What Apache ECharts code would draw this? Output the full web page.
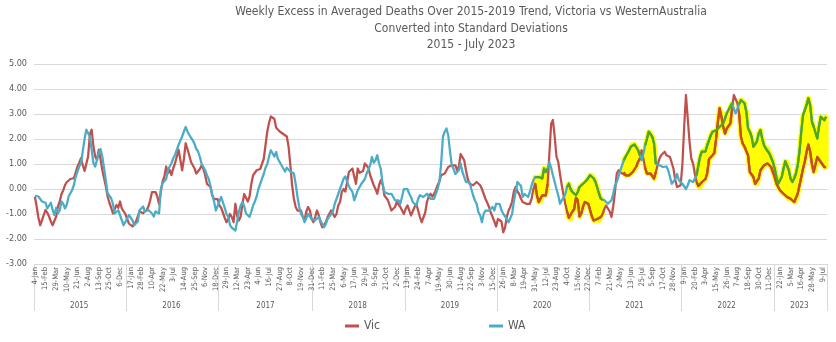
<!DOCTYPE html>
<html>
<head>
<meta charset="utf-8">
<title>Weekly Excess Deaths – Victoria vs Western Australia</title>
<script src="https://cdn.jsdelivr.net/npm/echarts/dist/echarts.min.js"></script>
<style>
  html, body { margin: 0; padding: 0; background: #ffffff; }
  #chart { width: 836px; height: 342px; }
</style>
</head>
<body>
<div id="chart"></div>
<script>
// Weekly series, one value per week starting Sunday 4 January 2015
const FIRST_WEEK = '2015-01-04';
const WEEK_COUNT = 447;
const MONTH_NAMES = ['Jan','Feb','Mar','Apr','May','Jun','Jul','Aug','Sep','Oct','Nov','Dec'];

// Excess deaths expressed in standard deviations, Victoria
const vic = [
  -0.31,-0.7,-1.15,-1.45,-1.25,-1.04,-0.84,-0.95,-1.1,-1.3,
  -1.45,-1.42,-1.1,-0.7,-0.5,-0.2,-0.05,0.16,0.28,0.36,
  0.4,0.43,0.43,0.5,0.9,1.05,1.23,0.95,0.72,0.7,
  1.3,2.2,2.37,1.7,1.3,1.16,1.57,1.2,0.76,0.43,
  0.1,-0.3,-0.55,-0.75,-0.98,-0.95,-0.64,-0.75,-0.5,-0.78,
  -0.82,-1.0,-1.2,-1.38,-1.45,-1.5,-1.48,-1.3,-1.1,-0.9,
  -0.95,-0.97,-0.9,-0.84,-0.7,-0.45,-0.12,-0.1,-0.12,-0.3,
  -0.6,-0.1,0.3,0.5,0.9,0.63,0.76,0.56,0.83,1.03,
  1.3,1.57,1.16,0.75,1.2,1.83,1.6,1.35,1.08,0.95,
  0.82,0.62,0.62,0.8,0.95,0.8,0.55,0.2,0.18,0.08,
  -0.25,-0.4,-0.45,-0.4,-0.66,-0.75,-0.95,-1.15,-1.33,-1.2,
  -1.0,-1.12,-1.33,-0.59,-1.06,-1.26,-1.1,-0.6,-0.2,-0.25,
  -0.5,-0.3,0.2,0.55,0.55,0.75,0.68,0.8,0.78,1.2,
  1.75,2.3,2.65,2.9,2.95,2.8,2.45,2.4,2.3,2.25,
  2.2,2.15,2.1,1.7,0.95,0.15,-0.39,-0.72,-0.86,-0.86,
  -0.86,-1.12,-1.26,-0.9,-0.72,-0.85,-1.2,-1.33,-1.12,-0.86,
  -1.05,-1.33,-1.53,-1.6,-1.33,-1.12,-1.12,-0.86,-0.92,-1.12,
  -1.0,-0.66,-0.52,-0.12,0.0,-0.1,0.28,0.68,0.7,0.82,
  0.5,0.21,0.82,0.65,0.7,0.72,1.02,1.0,0.85,0.55,
  0.35,0.15,0.0,-0.19,0.15,0.35,0.2,-0.26,-0.3,-0.45,
  -0.66,-0.86,-0.86,-0.72,-0.52,-0.55,-0.72,-0.86,-1.0,-0.79,
  -0.66,-0.85,-1.06,-1.0,-0.72,-0.6,-0.85,-1.12,-1.33,-1.33,
  -0.95,-0.52,-0.3,-0.19,-0.3,-0.2,-0.05,0.15,0.3,0.55,
  0.55,0.62,0.75,0.88,0.8,0.95,1.02,0.95,0.75,0.9,
  1.4,1.4,1.15,0.75,0.4,0.21,0.21,0.15,0.15,0.28,
  0.35,0.15,0.0,-0.2,-0.4,-0.55,-0.72,-0.95,-1.12,-1.3,
  -1.5,-1.2,-1.15,-1.3,-1.73,-1.55,-1.12,-0.86,-0.72,-0.5,
  -0.1,0.08,-0.1,-0.2,-0.39,-0.52,-0.59,-0.59,-0.52,-0.59,
  -0.39,0.0,0.21,-0.25,-0.52,-0.5,-0.25,-0.25,-0.25,0.2,
  1.4,2.6,2.76,2.1,1.3,1.08,0.6,0.15,-0.25,-0.6,
  -0.9,-1.15,-1.2,-0.9,-0.8,-0.35,-0.45,-1.1,-0.98,-0.7,
  -0.52,-0.52,-0.6,-0.85,-1.1,-1.26,-1.26,-1.2,-1.26,-1.12,
  -1.0,-0.8,-0.66,-0.7,-0.9,-1.12,-0.7,-0.1,0.62,0.75,
  0.75,0.62,0.68,0.55,0.55,0.55,0.62,0.68,0.75,0.9,
  1.08,1.22,1.55,1.6,0.85,0.62,0.62,0.62,0.55,0.42,
  0.68,0.95,1.2,1.35,1.35,1.49,1.35,1.28,1.28,1.2,
  0.8,0.35,0.08,0.08,0.15,1.0,2.5,3.76,2.82,1.9,
  1.22,1.02,0.6,0.28,0.12,0.08,0.28,0.3,0.4,0.65,
  1.2,1.28,1.35,1.45,2.02,2.69,3.23,2.89,2.49,2.22,
  2.42,2.5,2.62,3.2,3.76,3.76,3.43,3.0,2.09,1.82,
  1.69,1.62,1.35,0.68,0.62,0.48,0.21,0.21,0.42,0.75,
  0.82,0.95,0.98,1.02,0.95,0.88,0.68,0.48,0.21,0.08,
  -0.05,-0.12,-0.19,-0.25,-0.32,-0.39,-0.39,-0.45,-0.52,-0.45,
  -0.19,0.15,0.48,0.82,1.1,1.49,1.78,1.5,1.0,0.68,
  0.75,1.28,1.22,1.08,1.02,0.88,0.88
];

// Excess deaths expressed in standard deviations, Western Australia
const wa = [
  -0.27,-0.27,-0.3,-0.37,-0.5,-0.58,-0.55,-0.78,-0.72,-0.55,
  -0.84,-1.04,-0.75,-0.98,-0.85,-0.5,-0.6,-0.78,-0.62,-0.3,
  -0.17,-0.04,0.16,0.5,0.55,0.9,1.03,0.97,2.0,2.37,
  2.3,2.1,1.57,1.03,0.9,0.97,1.43,1.6,1.3,0.83,
  0.8,-0.17,-0.25,-0.37,-0.6,-0.98,-0.98,-0.85,-1.05,-1.25,
  -1.45,-1.4,-1.18,-1.04,-1.1,-1.25,-1.45,-1.51,-1.3,-0.85,
  -0.8,-0.7,-0.9,-0.84,-0.84,-0.9,-0.98,-1.1,-0.9,-0.84,
  -0.98,0.0,0.23,0.28,0.4,0.76,0.9,1.03,1.23,1.37,
  1.57,1.77,1.83,2.1,2.3,2.48,2.3,2.17,2.05,1.95,
  1.8,1.6,1.5,1.28,1.0,0.95,0.75,0.55,0.4,0.1,
  -0.25,-0.5,-0.86,-0.9,-0.5,-0.32,-0.4,-0.75,-1.0,-1.1,
  -1.45,-1.55,-1.6,-1.66,-1.3,-0.9,-0.66,-0.52,-0.7,-0.98,
  -1.0,-1.12,-0.9,-0.66,-0.5,-0.3,0.0,0.2,0.41,0.6,
  0.85,1.0,1.3,1.55,1.58,1.3,1.48,1.2,1.08,0.95,
  0.9,0.7,0.85,0.8,0.7,0.62,0.62,0.2,-0.3,-0.72,
  -1.0,-1.1,-1.33,-1.4,-1.0,-0.95,-1.2,-1.12,-1.25,-1.33,
  -1.12,-1.2,-1.4,-1.53,-1.4,-1.2,-1.12,-1.0,-0.9,-0.6,
  -0.4,-0.2,0.0,0.2,0.41,0.5,0.45,0.1,0.15,-0.12,
  -0.45,-0.25,-0.05,0.0,0.2,0.28,0.4,0.62,0.68,0.95,
  1.28,1.05,1.15,1.35,1.02,0.8,0.2,-0.12,-0.19,-0.19,
  -0.25,-0.19,-0.19,-0.45,-0.52,-0.45,-0.59,-0.3,0.0,0.08,
  0.0,-0.19,-0.32,-0.52,-0.45,-0.66,-0.4,-0.25,-0.19,-0.32,
  -0.25,-0.19,-0.25,-0.39,-0.45,-0.39,-0.19,0.0,0.28,1.02,
  2.09,2.29,2.42,2.15,1.5,0.95,0.8,0.6,0.55,0.75,
  1.02,0.68,0.75,0.28,0.35,0.28,0.0,-0.25,-0.45,-0.59,
  -0.92,-1.06,-1.33,-0.99,-0.86,-0.92,-0.86,-0.79,-0.72,-0.86,
  -0.59,-0.52,-0.6,-0.85,-0.99,-1.06,-1.2,-1.33,-1.33,-1.0,
  -0.5,-0.12,0.28,0.28,0.12,-0.32,-0.2,-0.25,-0.32,-0.12,
  0.15,0.35,0.48,0.42,0.48,0.48,0.42,0.82,0.68,0.82,
  1.08,0.85,0.55,0.28,0.0,-0.25,-0.59,-0.45,-0.35,-0.2,
  0.08,0.21,-0.02,-0.12,-0.19,-0.25,-0.12,0.08,0.15,0.21,
  0.17,0.35,0.42,0.55,0.52,0.42,0.28,0.05,-0.19,-0.39,
  -0.45,-0.45,-0.45,-0.59,-0.66,-0.45,-0.19,0.15,0.28,0.5,
  0.75,0.95,1.15,1.3,1.35,1.55,1.7,1.78,1.78,1.7,
  1.55,1.35,1.15,1.4,1.75,2.0,2.29,2.22,2.09,1.82,
  1.0,0.95,0.95,0.92,0.88,0.88,0.9,0.75,0.48,0.21,
  0.15,0.4,0.6,0.35,0.28,0.21,0.15,0.0,0.15,0.35,
  0.28,0.28,0.35,0.55,0.95,1.3,1.5,1.55,1.5,1.75,
  1.95,2.15,2.29,2.22,2.35,2.42,2.49,2.56,2.62,2.82,
  3.03,2.96,3.3,3.43,3.2,3.03,3.03,3.4,3.56,3.5,
  3.43,3.1,2.42,2.29,2.09,1.69,1.69,1.9,2.22,2.36,
  2.0,1.75,1.62,1.62,1.42,1.35,1.08,0.82,0.48,0.21,
  0.15,0.48,0.82,1.11,1.08,0.75,0.4,0.28,0.42,0.62,
  0.95,1.49,2.29,2.96,3.03,3.36,3.63,3.36,2.69,2.49,
  2.42,2.02,2.5,2.89,2.82,2.75,2.89
];

// Periods highlighted where WA ran above Victoria (first and last week)
const highlightPeriods = [
  ['2020-05-31', '2020-07-19'],
  ['2020-10-04', '2021-02-21'],
  ['2021-05-16', '2021-07-18'],
  ['2021-08-08', '2021-09-19'],
  ['2022-02-27', '2022-07-17'],
  ['2022-08-14', '2023-07-23']
];

const yTicks = { min: -3, max: 5, step: 1 };

const FONT = '"Liberation Sans Narrow", "DejaVu Sans Condensed", "Liberation Sans", sans-serif';
const TEXT_GREY = '#595959';
const GRID_GREY = '#d9d9d9';
const VIC_RED = '#C0504D';
const WA_BLUE = '#4BACC6';

// Week labels ("4-Jan") and the year each week belongs to
const DAY_MS = 86400000;
const startMs = Date.parse(FIRST_WEEK + 'T00:00:00Z');
const weekLabels = [];
const weekYears = [];
for (let i = 0; i < WEEK_COUNT; i++) {
  const d = new Date(startMs + i * 7 * DAY_MS);
  weekLabels.push(d.getUTCDate() + '-' + MONTH_NAMES[d.getUTCMonth()]);
  weekYears.push(d.getUTCFullYear());
}
const weekIndex = iso => Math.round((Date.parse(iso + 'T00:00:00Z') - startMs) / (7 * DAY_MS));

// Year groups for the second level of the category axis
const groupStarts = [];
const groupMids = [];
for (let i = 0; i < WEEK_COUNT; i++) {
  if (i === 0 || weekYears[i] !== weekYears[i - 1]) groupStarts.push(i);
}
groupStarts.forEach((s, k) => {
  const e = k + 1 < groupStarts.length ? groupStarts[k + 1] : WEEK_COUNT;
  groupMids.push(Math.floor((s + e - 1) / 2));
});

const spans = highlightPeriods.map(p => [weekIndex(p[0]), weekIndex(p[1])]);
const inSpan = i => spans.some(s => i >= s[0] && i <= s[1]);
const vicHi = vic.map((v, i) => (inSpan(i) ? v : null));
const waHi = wa.map((v, i) => (inSpan(i) ? v : null));

const chart = echarts.init(document.getElementById('chart'), null, { renderer: 'canvas' });

chart.setOption({
  animation: false,
  backgroundColor: '#ffffff',
  textStyle: { fontFamily: FONT },
  title: {
    text: 'Weekly Excess in Averaged Deaths Over 2015-2019 Trend, Victoria vs WesternAustralia\nConverted into Standard Deviations\n2015 - July 2023',
    left: 471,
    top: 4,
    textAlign: 'center',
    padding: 0,
    textStyle: {
      fontFamily: FONT,
      fontSize: 12,
      fontWeight: 'normal',
      color: TEXT_GREY,
      lineHeight: 16.5
    }
  },
  legend: {
    data: ['Vic', 'WA'],
    left: 345,
    top: 320,
    padding: 0,
    itemGap: 109,
    itemWidth: 14,
    itemHeight: 3,
    icon: 'rect',
    textStyle: { fontFamily: FONT, fontSize: 12, color: TEXT_GREY }
  },
  grid: { left: 34, right: 9, top: 64, bottom: 78, containLabel: false },
  xAxis: [
    {
      type: 'category',
      data: weekLabels,
      boundaryGap: true,
      axisLine: { show: true, lineStyle: { color: GRID_GREY, width: 1 } },
      axisTick: { show: false },
      axisLabel: {
        interval: 5,
        rotate: 90,
        fontFamily: FONT,
        fontSize: 7.5,
        color: TEXT_GREY,
        margin: 3
      },
      splitLine: { show: false }
    },
    {
      type: 'category',
      data: weekLabels,
      position: 'bottom',
      boundaryGap: true,
      axisLine: { show: false },
      axisTick: {
        show: true,
        length: 47,
        interval: idx => groupStarts.includes(idx) || idx === WEEK_COUNT,
        lineStyle: { color: GRID_GREY, width: 1 }
      },
      axisLabel: {
        interval: idx => groupMids.includes(idx),
        formatter: (value, idx) => String(weekYears[idx]),
        fontFamily: FONT,
        fontSize: 8,
        color: TEXT_GREY,
        margin: 38
      },
      splitLine: { show: false }
    }
  ],
  yAxis: {
    type: 'value',
    min: yTicks.min,
    max: yTicks.max,
    interval: yTicks.step,
    axisLine: { show: false },
    axisTick: { show: false },
    axisLabel: {
      formatter: v => v.toFixed(2),
      fontFamily: FONT,
      fontSize: 9,
      color: TEXT_GREY,
      margin: 7
    },
    splitLine: { lineStyle: { color: GRID_GREY, width: 1 } }
  },
  series: [
    {
      // yellow marker band between the two lines
      type: 'custom',
      name: 'highlight',
      silent: true,
      z: 1,
      data: spans.map(s => [s[0], s[1], 0]),
      encode: { x: [0, 1], y: 2 },
      renderItem: (params, api) => {
        const s = api.value(0);
        const e = api.value(1);
        const pts = [];
        for (let i = s; i <= e; i++) pts.push(api.coord([i, wa[i]]));
        for (let i = e; i >= s; i--) pts.push(api.coord([i, vic[i]]));
        return {
          type: 'polygon',
          shape: { points: pts },
          style: { fill: '#ffff00', stroke: '#ffff00', lineWidth: 5, lineJoin: 'round' }
        };
      }
    },
    {
      name: 'Vic',
      type: 'line',
      data: vic,
      z: 2,
      symbol: 'none',
      color: VIC_RED,
      lineStyle: { color: VIC_RED, width: 2.25, join: 'round' }
    },
    {
      name: 'WA',
      type: 'line',
      data: wa,
      z: 3,
      symbol: 'none',
      color: WA_BLUE,
      lineStyle: { color: WA_BLUE, width: 2.25, join: 'round' }
    },
    {
      // Vic line where it runs through the yellow band
      name: 'Vic marked',
      type: 'line',
      data: vicHi,
      z: 4,
      symbol: 'none',
      connectNulls: false,
      silent: true,
      lineStyle: { color: '#C4521E', width: 2.25, join: 'round' }
    },
    {
      // WA line where it runs through the yellow band
      name: 'WA marked',
      type: 'line',
      data: waHi,
      z: 5,
      symbol: 'none',
      connectNulls: false,
      silent: true,
      lineStyle: { color: '#52A81A', width: 2.25, join: 'round' }
    }
  ]
});
</script>
</body>
</html>
